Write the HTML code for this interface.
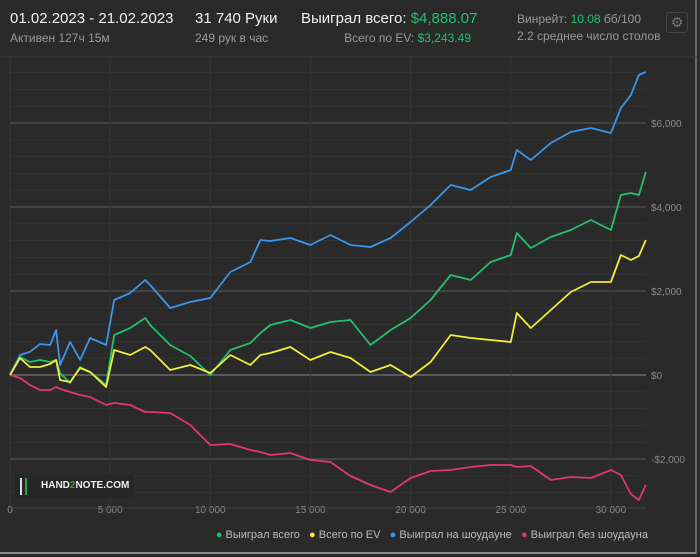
<!DOCTYPE html>
<html><head><meta charset="utf-8">
<style>
html,body{margin:0;padding:0;background:#2a2a2a;}
body{width:700px;height:557px;position:relative;overflow:hidden;font-family:"Liberation Sans","DejaVu Sans",sans-serif;}
.t{position:absolute;white-space:nowrap;}
.w{color:#f0f0f0;font-size:15px;}
.g{color:#9a9a9a;font-size:12px;}
.gr{color:#22c06f;}
</style></head>
<body>
<div style="position:absolute;left:0;top:0;width:697px;height:554px;border-right:2px solid #6a6a6a;border-bottom:2px solid #8a8a8a;box-sizing:border-box;"></div>
<div class="t w" style="left:10px;top:10px;">01.02.2023 - 21.02.2023</div>
<div class="t g" style="left:10px;top:31px;">Активен 127ч 15м</div>
<div class="t w" style="left:195px;top:10px;">31 740 Руки</div>
<div class="t g" style="left:195px;top:31px;">249 рук в час</div>
<div class="t w" style="left:301px;top:10px;">Выиграл всего: <span class="gr">$4,888.07</span></div>
<div class="t g" style="right:229px;top:31px;">Всего по EV: <span class="gr">$3,243.49</span></div>
<div class="t g" style="left:517px;top:12px;">Винрейт: <span class="gr">10.08</span> бб/100</div>
<div class="t g" style="left:517px;top:29px;">2.2 среднее число столов</div>
<div style="position:absolute;left:666px;top:12px;width:22px;height:21px;border:1px solid #444;border-radius:3px;box-sizing:border-box;color:#777;font-size:14px;text-align:center;line-height:19px;">⚙</div>
<svg id="chart" width="700" height="557" style="position:absolute;left:0;top:0;"></svg>
<div style="position:absolute;left:15px;top:475px;width:118px;height:23px;background:#262626;">
<span style="position:absolute;left:5px;top:3px;width:3px;height:17px;border-left:2px solid #ddd;border-right:2px solid #2ea043;"></span>
<span class="t" style="left:26px;top:5px;color:#eee;font-size:10px;font-weight:bold;">HAND<span style="color:#2ea043">2</span>NOTE.COM</span></div>
<div style="position:absolute;right:52px;top:529px;font-size:11px;color:#bbb;white-space:nowrap;">
<span><span style="color:#22c06f">●</span> Выиграл всего</span>&nbsp;&nbsp;
<span><span style="color:#f2ec3a">●</span> Всего по EV</span>&nbsp;&nbsp;
<span><span style="color:#3a96e8">●</span> Выиграл на шоудауне</span>&nbsp;&nbsp;
<span><span style="color:#e0386e">●</span> Выиграл без шоудауна</span></div>
<script>
const hands=[0,500,1000,1500,2000,2300,2500,3000,3500,4000,4800,5200,6000,6750,7000,8000,9000,10000,11000,12000,12500,13000,14000,15000,16000,17000,18000,19000,20000,21000,22000,23000,24000,25000,25300,26000,27000,28000,29000,30000,30500,31000,31400,31740];
const showdown=[0,476,552,738,714,1071,238,786,357,881,714,1786,1952,2262,2143,1595,1738,1833,2452,2690,3214,3190,3262,3095,3333,3095,3048,3262,3643,4048,4524,4405,4714,4881,5357,5119,5524,5786,5881,5762,6357,6667,7143,7214];
const total=[0,428,310,357,310,357,48,-190,190,71,-238,952,1119,1357,1190,714,452,0,595,762,1000,1190,1310,1119,1262,1310,714,1071,1357,1786,2381,2262,2690,2857,3381,3024,3286,3452,3690,3452,4286,4333,4286,4833];
const ev=[0,405,190,190,262,357,-119,-167,167,71,-286,595,476,667,595,119,238,48,476,238,476,524,667,357,548,405,71,238,-48,310,952,881,833,786,1476,1119,1548,1976,2214,2214,2857,2738,2833,3214];
const nonshowdown=[0,-71,-238,-357,-357,-286,-330,-405,-476,-524,-714,-667,-714,-881,-881,-905,-1190,-1667,-1643,-1786,-1833,-1905,-1857,-2024,-2071,-2405,-2619,-2786,-2452,-2286,-2262,-2190,-2143,-2143,-2190,-2167,-2500,-2429,-2452,-2262,-2381,-2833,-2976,-2619];
const yTicks=[-2000,0,2000,4000,6000];
const yTickLabels=["-$2,000","$0","$2,000","$4,000","$6,000"];
const xTicks=[0,5000,10000,15000,20000,25000,30000];
const xTickLabels=["0","5 000","10 000","15 000","20 000","25 000","30 000"];
const NS="http://www.w3.org/2000/svg";
const svg=document.getElementById('chart');
const X=h=>10+h*0.02003;
const Y=v=>375-v*0.042;
function mk(t,a){const e=document.createElementNS(NS,t);for(const k in a)e.setAttribute(k,a[k]);svg.appendChild(e);return e;}
const top0=57,bot=508,right=646;
let ln=mk('line',{x1:0,x2:697,y1:top0,y2:top0,stroke:'#3a3a3a'});


for(let v=-3200;v<=7600;v+=400){const y=Y(v);if(y<top0||y>bot)continue;
 const major=v%2000===0;
 const g=mk('line',{x1:10,x2:right,y1:y,y2:y,stroke:major?(v===0?'#777':'#555'):'#333','stroke-width':major?1.3:1});
 
 }
xTicks.forEach((h,i)=>{const x=X(h);
 const g=mk('line',{x1:x,x2:x,y1:top0,y2:bot,stroke:'#353535'});
 
 
 const t=mk('text',{x:x,y:513,fill:'#8a8a8a','font-size':10,'text-anchor':'middle','font-family':'Liberation Sans, sans-serif'});
 t.textContent=xTickLabels[i];
 
 });
const ax=mk('line',{x1:10,x2:right,y1:bot,y2:bot,stroke:'#444'});


yTicks.forEach((v,i)=>{const t=mk('text',{x:651,y:Y(v)+4,fill:'#8a8a8a','font-size':10,'font-family':'Liberation Sans, sans-serif'});
 t.textContent=yTickLabels[i];
 
 });
function series(vals,color,name){
 const d=vals.map((v,i)=>(i?'L':'M')+X(hands[i]).toFixed(1)+','+Y(v).toFixed(1)).join('');
 const p=mk('path',{d:d,fill:'none',stroke:color,'stroke-width':1.8,'stroke-linejoin':'round'});
 
 }
series(nonshowdown,'#e0386e','line-nonshowdown');
series(showdown,'#3a96e8','line-showdown');
series(total,'#22c06f','line-total');
series(ev,'#f2ec3a','line-ev');
</script>
</body></html>
